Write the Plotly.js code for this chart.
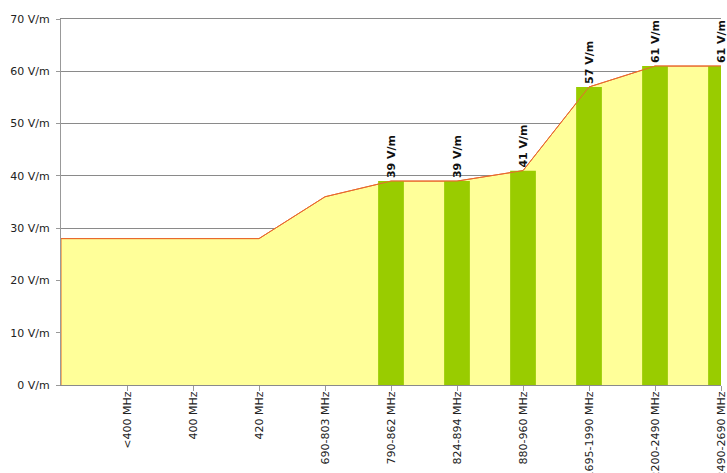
<!DOCTYPE html>
<html>
<head>
<meta charset="utf-8">
<script src="https://cdn.plot.ly/plotly-3.0.1.min.js"></script>
<style>html,body{margin:0;padding:0;background:#fff;}#chart{width:727px;height:473px;}</style>
</head>
<body>
<div id="chart"></div>
<script>
// Frequency bands (x categories)
const categories = ['<400 MHz','400 MHz','420 MHz','690-803 MHz','790-862 MHz','824-894 MHz','880-960 MHz','1695-1990 MHz','2200-2490 MHz','2490-2690 MHz'];
// Limit curve (area), V/m
const limitValues = [28, 28, 28, 36, 39, 39, 41, 57, 61, 61];
// Green bars
const barCategories = ['790-862 MHz','824-894 MHz','880-960 MHz','1695-1990 MHz','2200-2490 MHz','2490-2690 MHz'];
const barValues = [39, 39, 41, 57, 61, 61];
// Y ticks
const yTicks = [0, 10, 20, 30, 40, 50, 60, 70];

const idx = categories.map((c, i) => i + 1);
const areaX = [0, 0].concat(idx, [categories.length]);
const areaY = [0, limitValues[0]].concat(limitValues, [0]);
const lineX = [0].concat(idx);
const lineY = [limitValues[0]].concat(limitValues);
const barX = barCategories.map(c => categories.indexOf(c) + 1);

const font = {family: 'DejaVu Sans, Verdana, sans-serif', size: 11, color: '#222'};
const orange = '#e8692e';

const data = [
  {type: 'scatter', mode: 'lines', x: areaX, y: areaY, fill: 'toself',
   fillcolor: '#ffff99', line: {color: orange, width: 1}, hoverinfo: 'skip', showlegend: false},
  {type: 'bar', x: barX, y: barValues, width: 0.39, xaxis: 'x2', yaxis: 'y2',
   marker: {color: '#99cc00', line: {width: 0}},
   text: barValues.map(v => v + ' V/m'), textposition: 'outside', textangle: -90,
   constraintext: 'none', cliponaxis: false,
   textfont: {family: 'DejaVu Sans, Verdana, sans-serif', size: 11, color: '#111', weight: 'bold'},
   showlegend: false},
  {type: 'scatter', mode: 'lines', x: lineX, y: lineY, xaxis: 'x2', yaxis: 'y2',
   line: {color: orange, width: 1}, hoverinfo: 'skip', showlegend: false}
];

const layout = {
  width: 727, height: 473,
  margin: {l: 61, r: 6, t: 19, b: 88},
  paper_bgcolor: '#fff', plot_bgcolor: '#fff',
  font: font,
  showlegend: false,
  xaxis: {range: [0, categories.length], tickvals: idx, ticktext: categories, tickangle: -90,
    showgrid: false, zeroline: false, showline: true, mirror: true, linecolor: '#8a8a8a', linewidth: 1,
    ticks: 'outside', ticklen: 5, tickcolor: '#999', tickfont: font, layer: 'below traces',
    ticklabeloverflow: 'allow', ticklabelstandoff: -4},
  yaxis: {range: [0, 70], tickvals: yTicks, ticktext: yTicks.map(v => v + ' V/m'),
    showgrid: true, gridcolor: '#8a8a8a', gridwidth: 1, zeroline: false,
    showline: true, linecolor: '#999', linewidth: 1, ticks: 'outside', ticklen: 4, tickcolor: '#999',
    ticklabelstandoff: 4, tickfont: font, layer: 'below traces'},
  xaxis2: {range: [0, categories.length], overlaying: 'x', visible: false},
  yaxis2: {range: [0, 70], overlaying: 'y', visible: false}
};

Plotly.newPlot('chart', data, layout, {displayModeBar: false, staticPlot: true});
</script>
</body>
</html>
